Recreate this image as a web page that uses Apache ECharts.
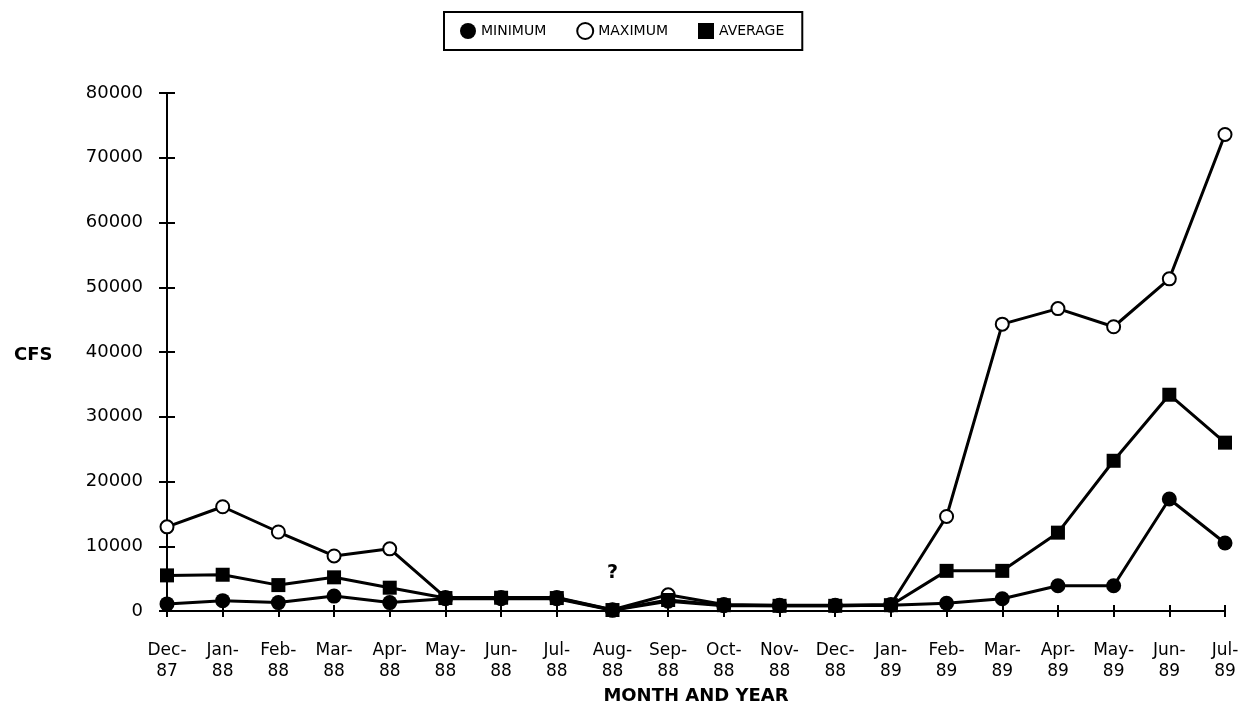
<!DOCTYPE html>
<html>
<head>
<meta charset="utf-8">
<script src="https://cdn.jsdelivr.net/npm/echarts@6/dist/echarts.min.js"></script>
<style>
  html, body { margin: 0; padding: 0; background: #fff; }
  #chart { width: 1251px; height: 717px; }
</style>
</head>
<body>
<div id="chart"></div>
<script>
// month / year pairs along the x axis
const monthNames = ['Dec', 'Jan', 'Feb', 'Mar', 'Apr', 'May', 'Jun', 'Jul', 'Aug', 'Sep',
                    'Oct', 'Nov', 'Dec', 'Jan', 'Feb', 'Mar', 'Apr', 'May', 'Jun', 'Jul']
const yearNames = ['87', '88', '88', '88', '88', '88', '88', '88', '88', '88',
                   '88', '88', '88', '89', '89', '89', '89', '89', '89', '89']

// CFS values
const minimumCfs = [1100, 1600, 1300, 2300, 1300, 1900, 1900, 1900, 100, 1500,
                    800, 800, 800, 900, 1200, 1900, 3900, 3900, 17300, 10500]
const maximumCfs = [13000, 16100, 12200, 8500, 9600, 2100, 2100, 2100, 200, 2500,
                    1000, 900, 900, 1000, 14600, 44300, 46700, 43900, 51300, 73600]
const averageCfs = [5500, 5600, 4000, 5200, 3600, 2000, 2050, 2000, 150, 1700,
                    900, 800, 800, 900, 6200, 6200, 12100, 23200, 33400, 26000]
const unknownIndex = 8   // the "?" month

const yTicks = { min: 0, max: 80000, step: 10000 }

const categories = monthNames.map((m, i) => m + '-\n' + yearNames[i])

const chart = echarts.init(document.getElementById('chart'))

const fontFamily = '"DejaVu Sans", sans-serif'
const black = '#000'

const lineSeries = (name, data, symbol, size) => ({
  name: name,
  type: 'line',
  data: data,
  symbol: symbol,
  symbolSize: size,
  showAllSymbol: true,
  lineStyle: { color: black, width: 3 },
  itemStyle: { color: black, borderColor: black, borderWidth: symbol === 'emptyCircle' ? 3 : 0 },
  emphasis: { disabled: true }
})

const avgData = averageCfs.map((v, i) => i === unknownIndex ? {
  value: v,
  label: {
    show: true, formatter: '?', position: 'top', distance: 20,
    fontFamily: fontFamily, fontWeight: 'bold', fontSize: 19, color: black
  }
} : v)

const option = {
  animation: false,
  backgroundColor: '#fff',
  title: {
    text: 'CFS',
    left: 9,
    top: 341,
    textStyle: { fontFamily: fontFamily, fontWeight: 'bold', fontSize: 18, color: black }
  },
  legend: {
    left: 444,
    top: 12,
    padding: [10, 18, 10, 16],
    itemGap: 30,
    itemWidth: 16,
    itemHeight: 16,
    borderColor: black,
    borderWidth: 2,
    textStyle: { fontFamily: fontFamily, fontSize: 14, color: black },
    data: [
      { name: 'MINIMUM', icon: 'circle' },
      { name: 'MAXIMUM', icon: 'emptyCircle' },
      { name: 'AVERAGE', icon: 'rect' }
    ]
  },
  grid: { left: 167, right: 26, top: 93, bottom: 106 },
  xAxis: [
    {
      type: 'category',
      data: categories,
      boundaryGap: false,
      position: 'bottom',
      name: 'MONTH AND YEAR',
      nameLocation: 'middle',
      nameGap: 72,
      nameTextStyle: { fontFamily: fontFamily, fontWeight: 'bold', fontSize: 18, color: black },
      axisLine: { lineStyle: { color: black, width: 2 } },
      axisTick: { length: 6, lineStyle: { color: black, width: 2 } },
      axisLabel: {
        interval: 0, margin: 29, fontFamily: fontFamily, fontSize: 17,
        lineHeight: 21, color: black
      },
      splitLine: { show: false }
    },
    {
      type: 'category',
      data: categories,
      boundaryGap: false,
      position: 'bottom',
      axisLine: { show: false },
      axisTick: { inside: true, length: 6, lineStyle: { color: black, width: 2 } },
      axisLabel: { show: false },
      splitLine: { show: false }
    }
  ],
  yAxis: [
    {
      type: 'value',
      position: 'left',
      min: yTicks.min,
      max: yTicks.max,
      interval: yTicks.step,
      axisLine: { show: true, lineStyle: { color: black, width: 2 } },
      axisTick: { show: true, length: 8, lineStyle: { color: black, width: 2 } },
      axisLabel: {
        margin: 24, fontFamily: fontFamily, fontSize: 18, color: black,
        formatter: v => String(v)
      },
      splitLine: { show: false }
    },
    {
      type: 'value',
      position: 'left',
      min: yTicks.min,
      max: yTicks.max,
      interval: yTicks.step,
      axisLine: { show: false },
      axisTick: { show: true, inside: true, length: 8, lineStyle: { color: black, width: 2 } },
      axisLabel: { show: false },
      splitLine: { show: false }
    }
  ],
  series: [
    lineSeries('MINIMUM', minimumCfs, 'circle', 15),
    lineSeries('MAXIMUM', maximumCfs, 'emptyCircle', 13),
    lineSeries('AVERAGE', avgData, 'rect', 14)
  ]
}

chart.setOption(option)
</script>
</body>
</html>
